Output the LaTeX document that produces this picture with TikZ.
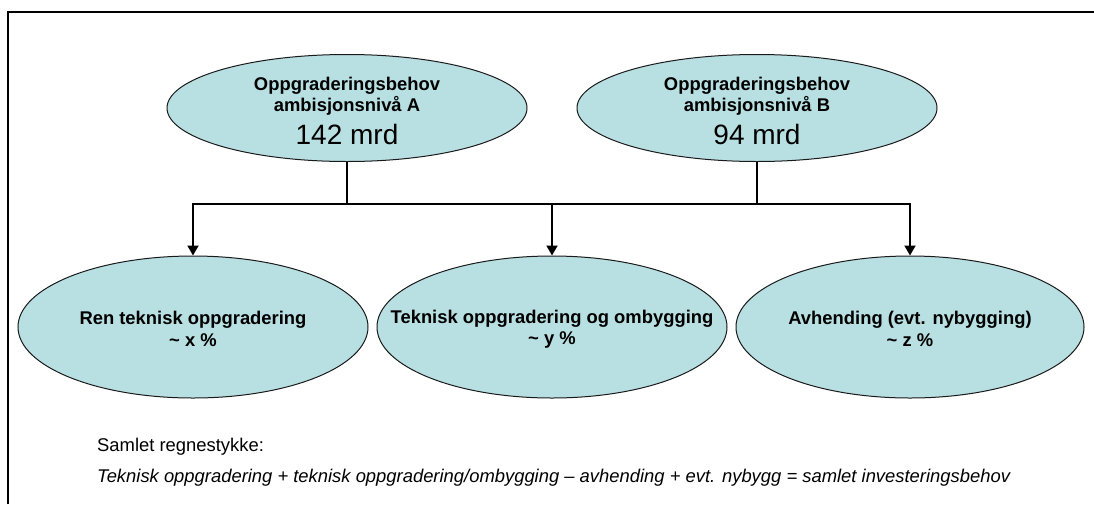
\documentclass[tikz,border=0pt]{standalone}
\usepackage{fontspec}
\setmainfont{Liberation Sans}
\usepackage{xcolor}
\usepackage{tikz}
\usetikzlibrary{arrows.meta,shapes.geometric}
\definecolor{behovfill}{HTML}{B8DFE2}
\definecolor{behovline}{HTML}{1A1A1A}
\tikzset{
  behov/.style={ellipse,draw=behovline,fill=behovfill,line width=1pt,inner sep=0pt},
  top/.style={behov,minimum width=360pt,minimum height=107pt},
  del/.style={behov,minimum width=350pt,minimum height=142pt},
  lbl/.style={align=center,inner sep=0pt,font=\bfseries\fontsize{18.4}{21.5}\selectfont},
  big/.style={font=\fontsize{28}{30}\selectfont},
  line/.style={draw=black,line width=2pt},
  arr/.style={line,-{Triangle[length=10pt,width=11pt]}},
  note/.style={anchor=west,inner sep=0pt,font=\fontsize{18.4}{21}\selectfont},
}
\begin{document}
\begin{tikzpicture}[x=1pt,y=-1pt]
  \useasboundingbox (0,0) rectangle (1094,504);
  % frame (runs off the page at right and bottom)
  \draw[line width=1.8pt] (8,504) -- (8,12) -- (1094,12);
  % levels of ambition
  \node[top] (ambA) at (347,108) {};
  \node[lbl] (ambAt) at (347,96) {Oppgraderingsbehov\\ambisjonsnivå A};
  \node[big] (ambAn) at (347,134) {142 mrd};
  \node[top] (ambB) at (757,108) {};
  \node[lbl] (ambBt) at (757,96) {Oppgraderingsbehov\\ambisjonsnivå B};
  \node[big] (ambBn) at (757,134) {94 mrd};
  % shares
  \node[del] (ren) at (193,327) {};
  \node[lbl,yshift=-2pt] (rent) at (ren) {Ren teknisk oppgradering\\\textasciitilde{} x \%};
  \node[del] (ombyg) at (552,327) {};
  \node[lbl,yshift=-2pt] (ombygt) at (ombyg) {Teknisk oppgradering og ombygging\\\textasciitilde{} y \%};
  \node[del,minimum width=348pt] (avh) at (910,327) {};
  \node[lbl,yshift=-2pt] (avht) at (avh) {Avhending (evt. nybygging)\\\textasciitilde{} z \%};
  % connectors
  \coordinate (bus) at (552,204);
  \draw[line] (ambA.south) -- (ambA.south |- bus);
  \draw[line] (ambB.south) -- (ambB.south |- bus);
  \draw[line,line cap=rect] (ren.north |- bus) -- (avh.north |- bus);
  \foreach \n in {ren,ombyg,avh} \draw[arr] (\n.north |- bus) -- (\n.north);
  % sum
  \node[note] (sumhead) at (97,447) {Samlet regnestykke:};
  \node[note,font=\itshape\fontsize{18.4}{21}\selectfont] (sumline) at (97,478) {Teknisk oppgradering + teknisk oppgradering/ombygging – avhending + evt. nybygg = samlet investeringsbehov};
\end{tikzpicture}
\end{document}
